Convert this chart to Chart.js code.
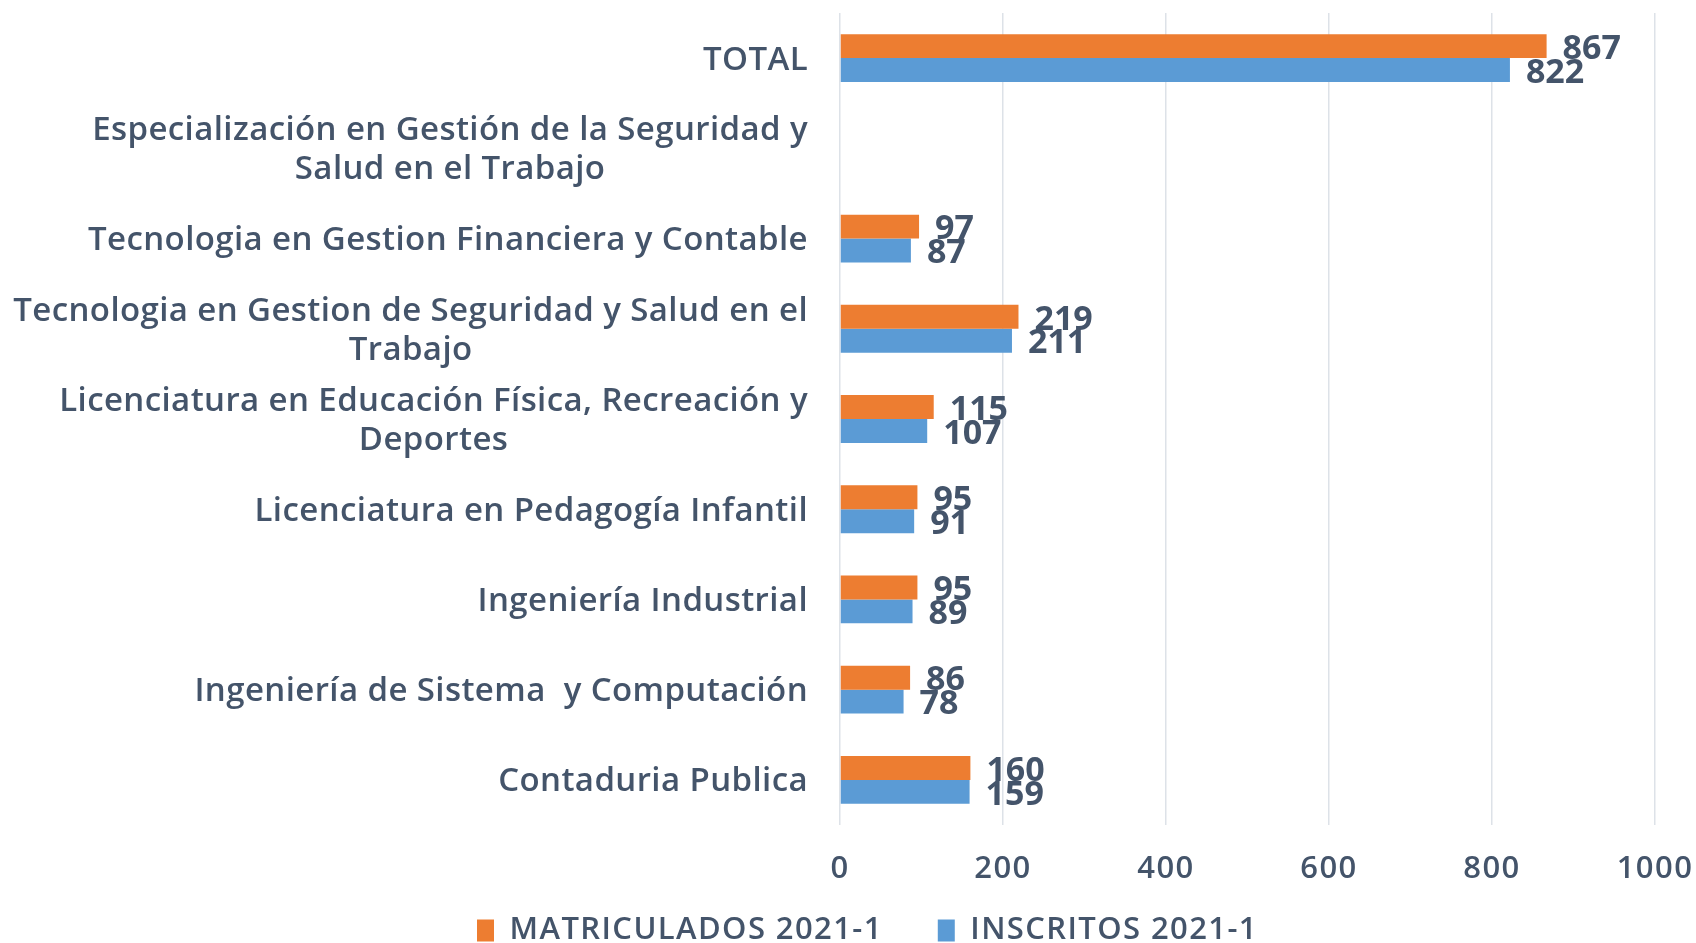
<!DOCTYPE html>
<html>
<head>
<meta charset="utf-8">
<script src="https://cdn.jsdelivr.net/npm/chart.js@4.4.0/dist/chart.umd.min.js"></script>
<style>
  body { margin: 0; background: #fff; }
  #wrap { width: 1696px; height: 943px; }
</style>
</head>
<body>
<div id="wrap"><canvas id="programas"></canvas></div>
<script>
  // datos
  var programas = [
    "TOTAL",
    ["Especialización en Gestión de la Seguridad y", "Salud en el Trabajo"],
    "Tecnologia en Gestion Financiera y Contable",
    ["Tecnologia en Gestion de Seguridad y Salud en el", "Trabajo"],
    ["Licenciatura en Educación Física, Recreación y", "Deportes"],
    "Licenciatura en Pedagogía Infantil",
    "Ingeniería Industrial",
    "Ingeniería de Sistema  y Computación",
    "Contaduria Publica"
  ];
  var matriculados = [867, null, 97, 219, 115, 95, 95, 86, 160];
  var inscritos = [822, null, 87, 211, 107, 91, 89, 78, 159];
  var serieNombres = ["MATRICULADOS 2021-1", "INSCRITOS 2021-1"];
  var ejeTicks = [0, 200, 400, 600, 800, 1000];

  var textColor = "#44546a";
  var fontFam = "'Open Sans', sans-serif";
  var spacing = "1.4px";

  // letra un poco espaciada (como la fuente original)
  var letterSp = {
    id: "letterSp",
    beforeLayout: function (chart) { chart.ctx.letterSpacing = spacing; },
    beforeDraw: function (chart) { chart.ctx.letterSpacing = spacing; }
  };

  // etiquetas de los ejes
  var axisLabels = {
    id: "axisLabels",
    afterDraw: function (chart) {
      var ctx = chart.ctx;
      var ys = chart.scales.y;
      var xs = chart.scales.x;
      var lineH = 39;
      ctx.save();
      ctx.fillStyle = textColor;
      ctx.textAlign = "center";
      ctx.textBaseline = "middle";
      // eje Y: bloque alineado a la derecha, lineas centradas
      ctx.letterSpacing = "0.4px";
      ctx.font = "600 33px " + fontFam;
      programas.forEach(function (lab, i) {
        var lines = Array.isArray(lab) ? lab : [lab];
        var maxW = 0;
        lines.forEach(function (l) {
          maxW = Math.max(maxW, ctx.measureText(l).width);
        });
        var cx = ys.right - 32 - maxW / 2;
        var y0 = ys.getPixelForTick(i) + 2 - ((lines.length - 1) * lineH) / 2;
        lines.forEach(function (l, k) {
          ctx.fillText(l, cx, y0 + k * lineH);
        });
      });
      // eje X
      ctx.letterSpacing = spacing;
      ctx.font = "600 31px " + fontFam;
      ejeTicks.forEach(function (v) {
        ctx.fillText(String(v), xs.getPixelForValue(v), chart.chartArea.bottom + 44);
      });
      ctx.restore();
    }
  };

  // valores al final de cada barra
  var barValues = {
    id: "barValues",
    afterDatasetsDraw: function (chart) {
      var ctx = chart.ctx;
      ctx.save();
      ctx.letterSpacing = "0px";
      ctx.font = "700 34px " + fontFam;
      ctx.fillStyle = textColor;
      ctx.textAlign = "left";
      ctx.textBaseline = "middle";
      chart.data.datasets.forEach(function (ds, d) {
        var meta = chart.getDatasetMeta(d);
        meta.data.forEach(function (bar, i) {
          if (ds.data[i] === null) return;
          ctx.fillText(ds.data[i], bar.x + 16, bar.y + 3);
        });
      });
      ctx.restore();
    }
  };

  var ctx = document.getElementById("programas").getContext("2d");
  var chart = new Chart(ctx, {
    type: "bar",
    data: {
      labels: programas,
      datasets: [
        {
          label: serieNombres[0],
          data: matriculados,
          backgroundColor: "#ed7d31",
          barPercentage: 1,
          categoryPercentage: 0.53
        },
        {
          label: serieNombres[1],
          data: inscritos,
          backgroundColor: "#5b9bd5",
          barPercentage: 1,
          categoryPercentage: 0.53
        }
      ]
    },
    options: {
      indexAxis: "y",
      responsive: true,
      maintainAspectRatio: false,
      animation: false,
      layout: { padding: { top: 13, right: 41, bottom: -13, left: 80 } },
      scales: {
        x: {
          min: ejeTicks[0],
          max: ejeTicks[ejeTicks.length - 1],
          afterBuildTicks: function (scale) {
            scale.ticks = ejeTicks.map(function (v) { return { value: v }; });
          },
          afterFit: function (scale) {
            scale.height = 35;
            scale.paddingLeft = 0;
            scale.paddingRight = 0;
          },
          grid: { color: "#dde2e8", lineWidth: 1.5, drawTicks: false },
          border: { display: false },
          ticks: { display: false }
        },
        y: {
          afterFit: function (scale) { scale.width = 760; },
          grid: { display: false },
          border: { display: false },
          ticks: { display: false }
        }
      },
      plugins: {
        legend: {
          position: "bottom",
          labels: {
            color: textColor,
            boxWidth: 17,
            boxHeight: 22,
            padding: 55,
            font: { family: fontFam, size: 31, weight: "600" }
          }
        },
        tooltip: { enabled: false }
      }
    },
    plugins: [letterSp, axisLabels, barValues]
  });
</script>
</body>
</html>
